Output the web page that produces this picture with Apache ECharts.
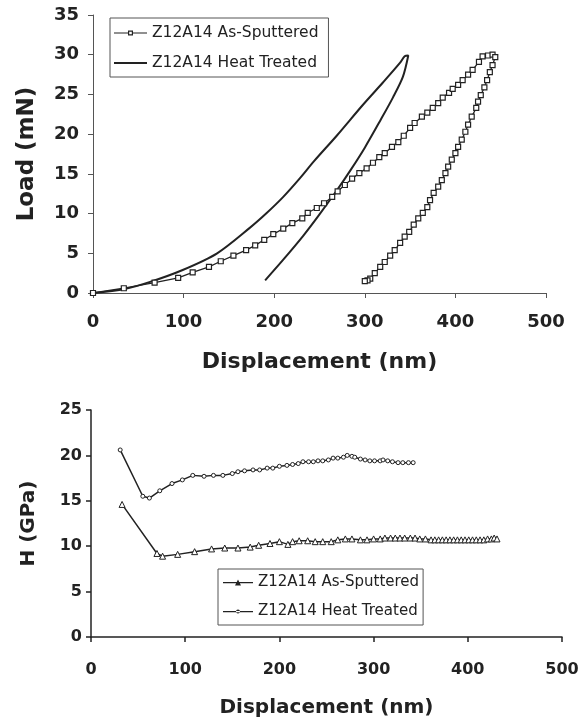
<!DOCTYPE html>
<html>
<head>
<meta charset="utf-8">
<title>Z12A14 load and hardness</title>
<script src="https://cdn.jsdelivr.net/npm/echarts@6.0.0/dist/echarts.min.js"></script>
<style>
  html, body { margin: 0; padding: 0; background: #fff; }
  #chart { width: 584px; height: 720px; }
</style>
</head>
<body>
<div id="chart"></div>
<script>
// load-displacement curves, [displacement nm, load mN]
const asSputteredLoading = [
  [0, 0], [34, 0.6], [68, 1.3], [94, 1.9], [110, 2.6], [128, 3.3], [141, 4.0], [155, 4.7],
  [169, 5.4], [179, 6.0], [189, 6.7], [199, 7.4], [210, 8.1], [220, 8.8], [231, 9.4], [237, 10.1],
  [247, 10.7], [255, 11.3], [264, 12.1], [270, 12.8], [278, 13.6], [286, 14.4], [294, 15.1],
  [302, 15.7], [309, 16.4], [316, 17.1], [322, 17.6], [330, 18.4], [337, 19.0], [343, 19.8],
  [350, 20.8], [355, 21.4], [363, 22.2], [369, 22.7], [375, 23.3], [381, 23.9], [386, 24.6],
  [393, 25.2], [397, 25.7], [403, 26.2], [408, 26.8], [414, 27.5], [419, 28.1], [426, 29.1],
  [430, 29.8], [436, 29.9], [441, 30.0], [444, 29.7]
]
const asSputteredUnloading = [
  [441, 28.7], [438, 27.8], [435, 26.8], [432, 25.9], [428, 24.9], [425, 24.1], [423, 23.3],
  [418, 22.2], [414, 21.2], [411, 20.3], [407, 19.3], [403, 18.4], [400, 17.6], [396, 16.8],
  [392, 15.9], [389, 15.1], [385, 14.2], [381, 13.4], [376, 12.6], [372, 11.7], [369, 10.8],
  [364, 10.1], [359, 9.4], [354, 8.6], [349, 7.7], [344, 7.1], [339, 6.3], [333, 5.4],
  [328, 4.7], [322, 3.9], [317, 3.3], [311, 2.5], [306, 1.8], [303, 1.6], [300, 1.5]
]
const heatTreatedLoading = [
  [0, 0], [35, 0.5], [63, 1.4], [99, 2.9], [137, 5.0], [173, 8.2], [192, 10.1], [210, 12.1],
  [228, 14.4], [244, 16.6], [269, 19.8], [298, 23.7], [320, 26.5], [339, 29.0], [344, 29.8], [348, 29.9]
]
const heatTreatedUnloading = [
  [342, 27.2], [331, 24.6], [317, 21.7], [300, 18.3], [285, 15.6], [269, 12.9], [250, 9.9],
  [232, 7.2], [210, 4.2], [190, 1.6]
]

// hardness vs displacement, [displacement nm, H GPa]
const hardnessAsSputtered = [
  [33, 14.6], [70, 9.2], [76, 8.9], [92, 9.1], [110, 9.4], [128, 9.7], [142, 9.8], [156, 9.8],
  [169, 9.9], [178, 10.1], [190, 10.3], [200, 10.5], [209, 10.2], [214, 10.5], [221, 10.6],
  [230, 10.6], [238, 10.5], [246, 10.5], [255, 10.5], [262, 10.7], [270, 10.8], [277, 10.8],
  [286, 10.7], [293, 10.7], [300, 10.8], [307, 10.8], [312, 10.9], [318, 10.9], [323, 10.9],
  [328, 10.9], [333, 10.9], [339, 10.9], [344, 10.9], [349, 10.8], [355, 10.8], [361, 10.7],
  [365, 10.7], [369, 10.7], [373, 10.7], [377, 10.7], [381, 10.7], [385, 10.7], [389, 10.7],
  [393, 10.7], [397, 10.7], [401, 10.7], [405, 10.7], [409, 10.7], [413, 10.7], [417, 10.7],
  [421, 10.8], [425, 10.8], [428, 10.9], [431, 10.8]
]
const hardnessHeatTreated = [
  [31, 20.6], [55, 15.5], [62, 15.3], [73, 16.1], [86, 16.9], [97, 17.3], [108, 17.8], [120, 17.7],
  [130, 17.8], [140, 17.8], [150, 18.0], [156, 18.2], [163, 18.3], [172, 18.4], [179, 18.4],
  [187, 18.6], [193, 18.6], [200, 18.8], [208, 18.9], [214, 19.0], [220, 19.1], [225, 19.3],
  [231, 19.3], [236, 19.3], [241, 19.4], [246, 19.4], [252, 19.5], [257, 19.7], [262, 19.7],
  [268, 19.8], [272, 20.0], [277, 19.9], [280, 19.8], [286, 19.6], [291, 19.5], [296, 19.4],
  [301, 19.4], [307, 19.4], [310, 19.5], [315, 19.4], [320, 19.3], [326, 19.2], [331, 19.2],
  [337, 19.2], [342, 19.2]
]

const seriesLabels = {
  loadAs: 'Z12A14 As-Sputtered',
  loadHt: 'Z12A14 Heat Treated',
  hardAs: 'Z12A14 As-Sputtered',
  hardHt: 'Z12A14 Heat Treated'
}

const ink = '#222'
const font = 'DejaVu Sans'

// legend icons: line with a small marker; the leading M's pin the box to itemWidth x itemHeight
const iconLoadAs = 'path://M0,0 M33,14 M0,6.4 H14 V7.6 H0 Z M19,6.4 H33 V7.6 H19 Z M14,4.5 H19 V9.5 H14 Z M15.2,5.7 V8.3 H17.8 V5.7 Z'
const iconLoadHt = 'path://M0,0 M33,14 M0,6 H33 V8 H0 Z'
const iconHardAs = 'path://M0,0 M30,13 M0,6 H30 V7.2 H0 Z M12,9.5 L15,3.5 L18,9.5 Z'
const iconHardHt = 'path://M0,0 M30,13 M0,6 H30 V7.2 H0 Z M13,6.6 A2,2 0 1,0 17,6.6 A2,2 0 1,0 13,6.6 Z'

const chart = echarts.init(document.getElementById('chart'))

const axisCommon = (lineColor, lineWidth) => ({
  type: 'value',
  splitLine: { show: false },
  axisLine: { show: true, lineStyle: { color: lineColor, width: lineWidth } },
  axisTick: { show: true, length: 5, lineStyle: { color: lineColor, width: lineWidth } },
  nameLocation: 'middle'
})

const legendItem = (name, icon) => ({
  name: name, icon: icon,
  itemStyle: { color: ink, borderWidth: 0 }
})

const option = {
  animation: false,
  backgroundColor: '#fff',
  grid: [
    { left: 93, top: 15, width: 453, height: 278 },
    { left: 91, top: 410, width: 471, height: 227 }
  ],
  xAxis: [
    {
      ...axisCommon('#555', 1), gridIndex: 0, min: 0, max: 500, interval: 100,
      name: 'Displacement (nm)', nameGap: 58,
      nameTextStyle: { fontFamily: font, fontWeight: 'bold', color: ink, fontSize: 22 },
      axisLabel: { margin: 20, fontFamily: font, fontWeight: 'bold', fontSize: 18, color: ink }
    },
    {
      ...axisCommon('#222', 1.5), gridIndex: 1, min: 0, max: 500, interval: 100,
      name: 'Displacement (nm)', nameGap: 61,
      nameTextStyle: { fontFamily: font, fontWeight: 'bold', color: ink, fontSize: 20 },
      axisLabel: { margin: 25, fontFamily: font, fontWeight: 'bold', fontSize: 16, color: ink }
    }
  ],
  yAxis: [
    {
      ...axisCommon('#555', 1), gridIndex: 0, min: 0, max: 35, interval: 5,
      name: 'Load (mN)', nameGap: 54,
      nameTextStyle: { fontFamily: font, fontWeight: 'bold', color: ink, fontSize: 23 },
      axisLabel: { margin: 14, fontFamily: font, fontWeight: 'bold', fontSize: 18, color: ink }
    },
    {
      ...axisCommon('#222', 1.5), gridIndex: 1, min: 0, max: 25, interval: 5,
      name: 'H (GPa)', nameGap: 52,
      nameTextStyle: { fontFamily: font, fontWeight: 'bold', color: ink, fontSize: 20 },
      axisLabel: { margin: 9, fontFamily: font, fontWeight: 'bold', fontSize: 16, color: ink }
    }
  ],
  legend: [
    {
      data: [legendItem('loadAs', iconLoadAs), legendItem('loadHt', iconLoadHt)],
      orient: 'vertical', left: 110, top: 18,
      padding: [7, 10, 6, 4], itemWidth: 33, itemHeight: 14, itemGap: 14,
      borderColor: '#555', borderWidth: 1, borderRadius: 0,
      textStyle: { fontFamily: font, fontSize: 15.5, color: ink },
      formatter: (name) => seriesLabels[name]
    },
    {
      data: [legendItem('hardAs', iconHardAs), legendItem('hardHt', iconHardHt)],
      orient: 'vertical', left: 218, top: 569,
      padding: [6, 4, 6, 5], itemWidth: 30, itemHeight: 13, itemGap: 14,
      borderColor: '#555', borderWidth: 1, borderRadius: 0,
      textStyle: { fontFamily: font, fontSize: 15, color: ink },
      formatter: (name) => seriesLabels[name]
    }
  ],
  series: [
    {
      name: 'loadAs', type: 'line', xAxisIndex: 0, yAxisIndex: 0,
      data: asSputteredLoading.concat(asSputteredUnloading),
      symbol: 'rect', symbolSize: 5, showAllSymbol: true,
      itemStyle: { color: '#fff', borderColor: ink, borderWidth: 1.2 },
      lineStyle: { color: ink, width: 1.3 }
    },
    {
      name: 'loadHt', type: 'line', xAxisIndex: 0, yAxisIndex: 0,
      data: heatTreatedLoading.concat(heatTreatedUnloading),
      symbol: 'none', smooth: 0.3,
      itemStyle: { color: ink },
      lineStyle: { color: ink, width: 2 }
    },
    {
      name: 'hardAs', type: 'line', xAxisIndex: 1, yAxisIndex: 1,
      data: hardnessAsSputtered,
      symbol: 'triangle', symbolSize: 6, showAllSymbol: true,
      itemStyle: { color: '#fff', borderColor: ink, borderWidth: 1 },
      lineStyle: { color: ink, width: 1.5 }
    },
    {
      name: 'hardHt', type: 'line', xAxisIndex: 1, yAxisIndex: 1,
      data: hardnessHeatTreated,
      symbol: 'circle', symbolSize: 4, showAllSymbol: true,
      itemStyle: { color: '#fff', borderColor: ink, borderWidth: 1 },
      lineStyle: { color: ink, width: 1.5 }
    }
  ]
}

chart.setOption(option)
</script>
</body>
</html>
